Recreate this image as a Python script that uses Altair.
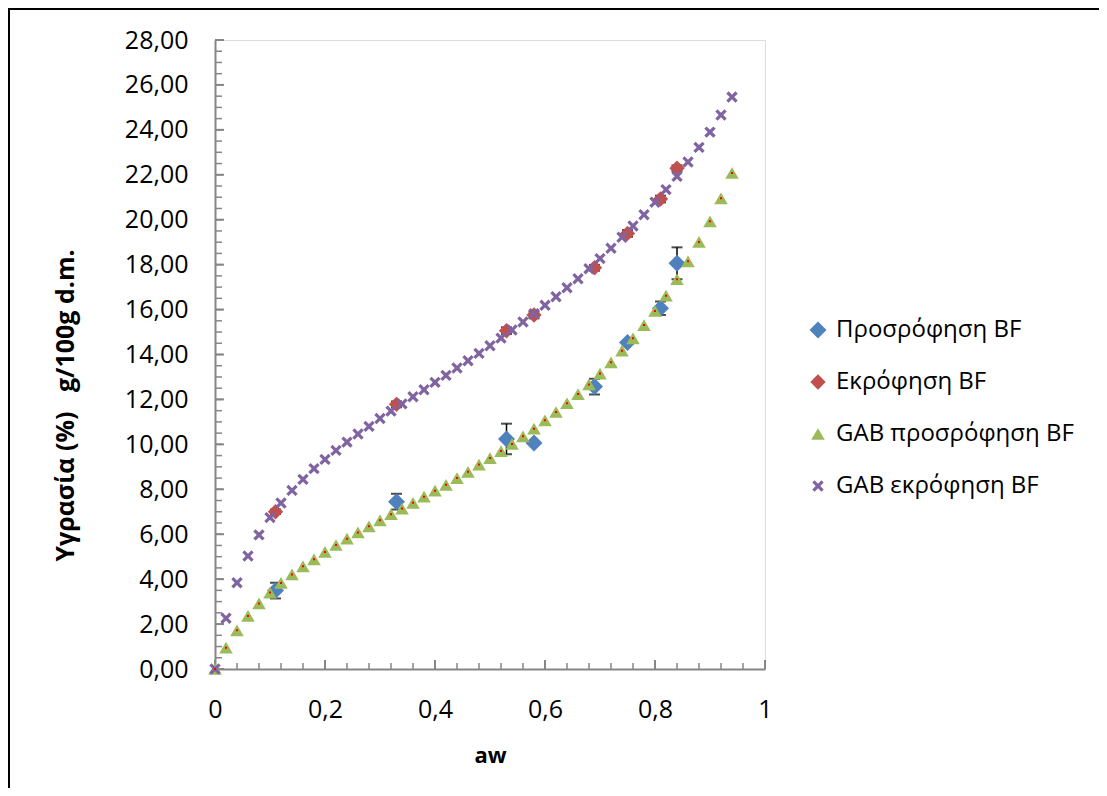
import altair as alt
import pandas as pd

# ---------------- data ----------------
aw_obs = [0.11, 0.33, 0.53, 0.58, 0.69, 0.75, 0.81, 0.84]
sorption = [3.49, 7.45, 10.24, 10.06, 12.57, 14.53, 16.06, 18.06]
sorption_err = [0.35, 0.35, 0.68, 0.0, 0.35, 0.0, 0.30, 0.71]
desorption = [7.00, 11.78, 15.06, 15.76, 17.86, 19.39, 20.92, 22.29]
desorption_err = [0.10, 0.13, 0.15, 0.15, 0.13, 0.15, 0.15, 0.13]

aw_gab = [0.00, 0.02, 0.04, 0.06, 0.08, 0.10, 0.12, 0.14, 0.16, 0.18,
          0.20, 0.22, 0.24, 0.26, 0.28, 0.30, 0.32, 0.34, 0.36, 0.38,
          0.40, 0.42, 0.44, 0.46, 0.48, 0.50, 0.52, 0.54, 0.56, 0.58,
          0.60, 0.62, 0.64, 0.66, 0.68, 0.70, 0.72, 0.74, 0.76, 0.78,
          0.80, 0.82, 0.84, 0.86, 0.88, 0.90, 0.92, 0.94]
gab_sorption = [0.00, 0.95, 1.72, 2.36, 2.92, 3.40, 3.83, 4.21, 4.57, 4.88,
                5.21, 5.52, 5.80, 6.08, 6.35, 6.62, 6.89, 7.14, 7.40, 7.67,
                7.94, 8.20, 8.50, 8.78, 9.10, 9.39, 9.70, 10.02, 10.36, 10.70,
                11.07, 11.44, 11.83, 12.24, 12.67, 13.15, 13.65, 14.17, 14.72, 15.31,
                15.94, 16.62, 17.35, 18.15, 19.01, 19.93, 20.95, 22.08]
gab_desorption = [0.00, 2.26, 3.84, 5.03, 5.97, 6.74, 7.39, 7.95, 8.44, 8.92,
                  9.33, 9.73, 10.10, 10.46, 10.80, 11.15, 11.48, 11.80, 12.12, 12.43,
                  12.76, 13.07, 13.40, 13.72, 14.05, 14.39, 14.73, 15.09, 15.45, 15.82,
                  16.19, 16.57, 16.97, 17.37, 17.82, 18.27, 18.73, 19.22, 19.72, 20.22,
                  20.78, 21.34, 21.93, 22.57, 23.22, 23.90, 24.66, 25.46]

series_names = ["Προσρόφηση BF", "Εκρόφηση BF", "GAB προσρόφηση BF", "GAB εκρόφηση BF"]
series_colors = ["#4F81BD", "#C0504D", "#9BBB59", "#8064A2"]
x_shape = "M-1,-0.6L-0.6,-1L0,-0.4L0.6,-1L1,-0.6L0.4,0L1,0.6L0.6,1L0,0.4L-0.6,1L-1,0.6L-0.4,0Z"
series_shapes = ["diamond", "diamond", "triangle-up", x_shape]
series_sizes = [290, 130, 75, 70]

y_major = [0, 2, 4, 6, 8, 10, 12, 14, 16, 18, 20, 22, 24, 26, 28]
y_minor = [v / 2 for v in range(0, 57)]
x_major = [0, 0.2, 0.4, 0.6, 0.8, 1]
x_minor = [v / 25 for v in range(0, 26)]

y_title = "Υγρασία (%)\u00a0\u00a0\u00a0g/100g d.m."

# ---------------- tables ----------------
rows = []
for x, y in zip(aw_obs, sorption):
    rows.append({"aw": x, "m": y, "series": series_names[0]})
for x, y in zip(aw_obs, desorption):
    rows.append({"aw": x, "m": y, "series": series_names[1]})
for x, y in zip(aw_gab, gab_sorption):
    rows.append({"aw": x, "m": y, "series": series_names[2]})
for x, y in zip(aw_gab, gab_desorption):
    rows.append({"aw": x, "m": y, "series": series_names[3]})
pts = pd.DataFrame(rows)
pts["order"] = range(len(pts))

err_rows = []
for x, y, e in zip(aw_obs, sorption, sorption_err):
    if e > 0:
        err_rows.append({"aw": x, "lo": y - e, "hi": y + e})
for x, y, e in zip(aw_obs, desorption, desorption_err):
    if e > 0:
        err_rows.append({"aw": x, "lo": y - e, "hi": y + e})
errs = pd.DataFrame(err_rows)

gab_s = pd.DataFrame({"aw": aw_gab, "m": gab_sorption})

ymaj = pd.DataFrame({"v": y_major})
ymin = pd.DataFrame({"v": y_minor})
xmaj = pd.DataFrame({"v": x_major})
xmin = pd.DataFrame({"v": x_minor})

FONT = "Open Sans"
xs = alt.Scale(domain=[0, 1], nice=False, zero=False)
ys = alt.Scale(domain=[0, 28], nice=False, zero=False)

x_axis = alt.Axis(
    values=x_major, grid=False, ticks=False, tickSize=0, labelFlush=False,
    labelExpr="replace(format(datum.value, '.1~f'), '.', ',')",
    labelFont=FONT, labelFontSize=25, labelColor="black", labelPadding=28,
    domainColor="#868686", domainWidth=2,
    title="aw", titleFont=FONT, titleFontSize=22, titleFontWeight="bold",
    titleColor="black", titleY=86, titleBaseline="middle",
)
y_axis = alt.Axis(
    values=y_major, grid=False, ticks=False, tickSize=0, labelFlush=False,
    labelExpr="replace(format(datum.value, '.2f'), '.', ',')",
    labelFont=FONT, labelFontSize=25, labelColor="black", labelPadding=27,
    domainColor="#868686", domainWidth=2,
    title=y_title, titleFont=FONT, titleFontSize=25,
    titleFontWeight="bold", titleColor="black",
    titleX=-150, titleY=365, titleAngle=270, titleAlign="center",
    titleBaseline="middle",
)

base_axes = alt.Chart(ymaj).mark_rule(opacity=0).encode(
    x=alt.X("v:Q", scale=xs, axis=x_axis),
    y=alt.Y("v:Q", scale=ys, axis=y_axis),
)

tick_col = "#868686"
y_minor_ticks = alt.Chart(ymin).mark_rule(color=tick_col, strokeWidth=1.5).encode(
    y=alt.Y("v:Q", scale=ys), x=alt.value(0), x2=alt.value(7))
y_major_ticks = alt.Chart(ymaj).mark_rule(color=tick_col, strokeWidth=2).encode(
    y=alt.Y("v:Q", scale=ys), x=alt.value(0), x2=alt.value(9))
x_minor_ticks = alt.Chart(xmin).mark_rule(color=tick_col, strokeWidth=1.5).encode(
    x=alt.X("v:Q", scale=xs), y=alt.value(629), y2=alt.value(623))
x_major_ticks = alt.Chart(xmaj).mark_rule(color=tick_col, strokeWidth=2).encode(
    x=alt.X("v:Q", scale=xs), y=alt.value(629), y2=alt.value(620))

err_line = alt.Chart(errs).mark_rule(color="black", strokeWidth=1.5).encode(
    x=alt.X("aw:Q", scale=xs), y=alt.Y("lo:Q", scale=ys), y2="hi:Q")
err_lo = alt.Chart(errs).mark_tick(color="black", orient="horizontal", size=11, thickness=2).encode(
    x=alt.X("aw:Q", scale=xs), y=alt.Y("lo:Q", scale=ys))
err_hi = alt.Chart(errs).mark_tick(color="black", orient="horizontal", size=11, thickness=2).encode(
    x=alt.X("aw:Q", scale=xs), y=alt.Y("hi:Q", scale=ys))

legend = alt.Legend(
    title=None, orient="none", legendX=591, legendY=278,
    labelFont=FONT, labelFontSize=24, labelColor="black", labelLimit=0,
    rowPadding=28, labelOffset=6, padding=0, symbolStrokeWidth=0,
)

points = alt.Chart(pts).mark_point(filled=True, opacity=1, strokeWidth=0).encode(
    x=alt.X("aw:Q", scale=xs),
    y=alt.Y("m:Q", scale=ys),
    color=alt.Color("series:N", scale=alt.Scale(domain=series_names, range=series_colors), legend=legend),
    shape=alt.Shape("series:N", scale=alt.Scale(domain=series_names, range=series_shapes), legend=legend),
    size=alt.Size("series:N", scale=alt.Scale(domain=series_names, range=series_sizes), legend=legend),
    order=alt.Order("order:Q"),
)

red_dots = alt.Chart(gab_s).mark_point(filled=True, shape="square", size=4, color="#FF0000", opacity=1).encode(
    x=alt.X("aw:Q", scale=xs), y=alt.Y("m:Q", scale=ys))

frame = alt.Chart(ymaj).mark_rect(fill=None, stroke="black", strokeWidth=1.5).encode(
    x=alt.value(-206), x2=alt.value(1200), y=alt.value(-31), y2=alt.value(1000))

chart = alt.layer(
    frame, base_axes, y_minor_ticks, y_major_ticks, x_minor_ticks, x_major_ticks,
    err_line, err_lo, err_hi, points, red_dots,
).properties(
    width=550, height=629,
    autosize=alt.AutoSizeParams(type="none"),
    padding={"left": 207, "top": 32, "right": 334, "bottom": 119},
).configure_view(stroke=None).configure(background="white")

chart.save("out.html", embed_options={"renderer": "svg", "actions": False})
